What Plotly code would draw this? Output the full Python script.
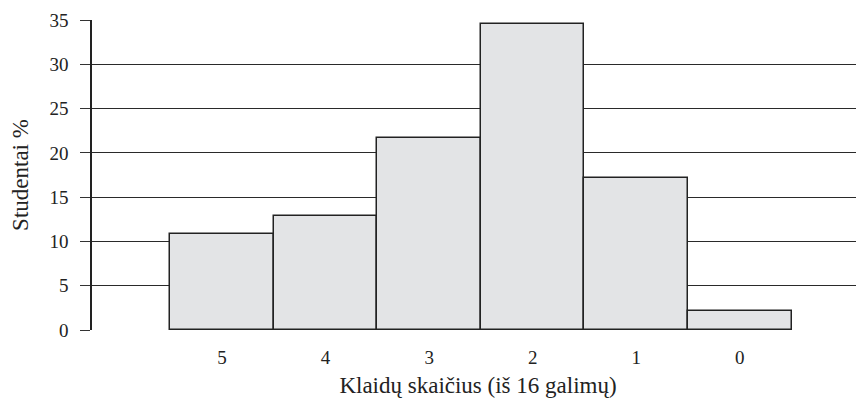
import plotly.graph_objects as go

categories = ["5", "4", "3", "2", "1", "0"]
values = [10.8, 12.9, 21.7, 34.6, 17.2, 2.1]
y_ticks = [0, 5, 10, 15, 20, 25, 30, 35]

FONT = "Liberation Serif"

fig = go.Figure()
fig.add_trace(go.Bar(
    x=categories, y=values,
    marker=dict(color="#e3e4e6", line=dict(color="#222222", width=1.5)),
    width=1.0,
))

# page body has an 8px margin, so the figure is offset by 8px
fig.update_layout(
    width=856, height=401,
    margin=dict(l=84, r=0, t=12, b=79, autoexpand=False),
    paper_bgcolor="white", plot_bgcolor="white",
    bargap=0, showlegend=False,
    font=dict(family=FONT, color="#222222", size=19),
    xaxis=dict(
        type="category", automargin=False,
        range=[-1.256, 6.2],
        showgrid=False, zeroline=False,
        showline=False,
        ticks="", ticklabelstandoff=14,
        tickfont=dict(size=19, family=FONT),
        title=dict(text="Klaidų skaičius (iš 16 galimų)", font=dict(size=23, family=FONT), standoff=9),
    ),
    yaxis=dict(
        range=[0, 35], automargin=False,
        tickvals=y_ticks,
        showgrid=True, gridcolor="#2a2a2a", gridwidth=1.2,
        zeroline=False,
        showline=True, linecolor="#222222", linewidth=1.5,
        ticks="outside", ticklen=10, tickcolor="#333333", tickwidth=1.2,
        ticklabelstandoff=8,
        tickfont=dict(size=19, family=FONT),
        title=dict(text="Studentai %", font=dict(size=23, family=FONT), standoff=18),
    ),
)

fig.write_html("out.html")
